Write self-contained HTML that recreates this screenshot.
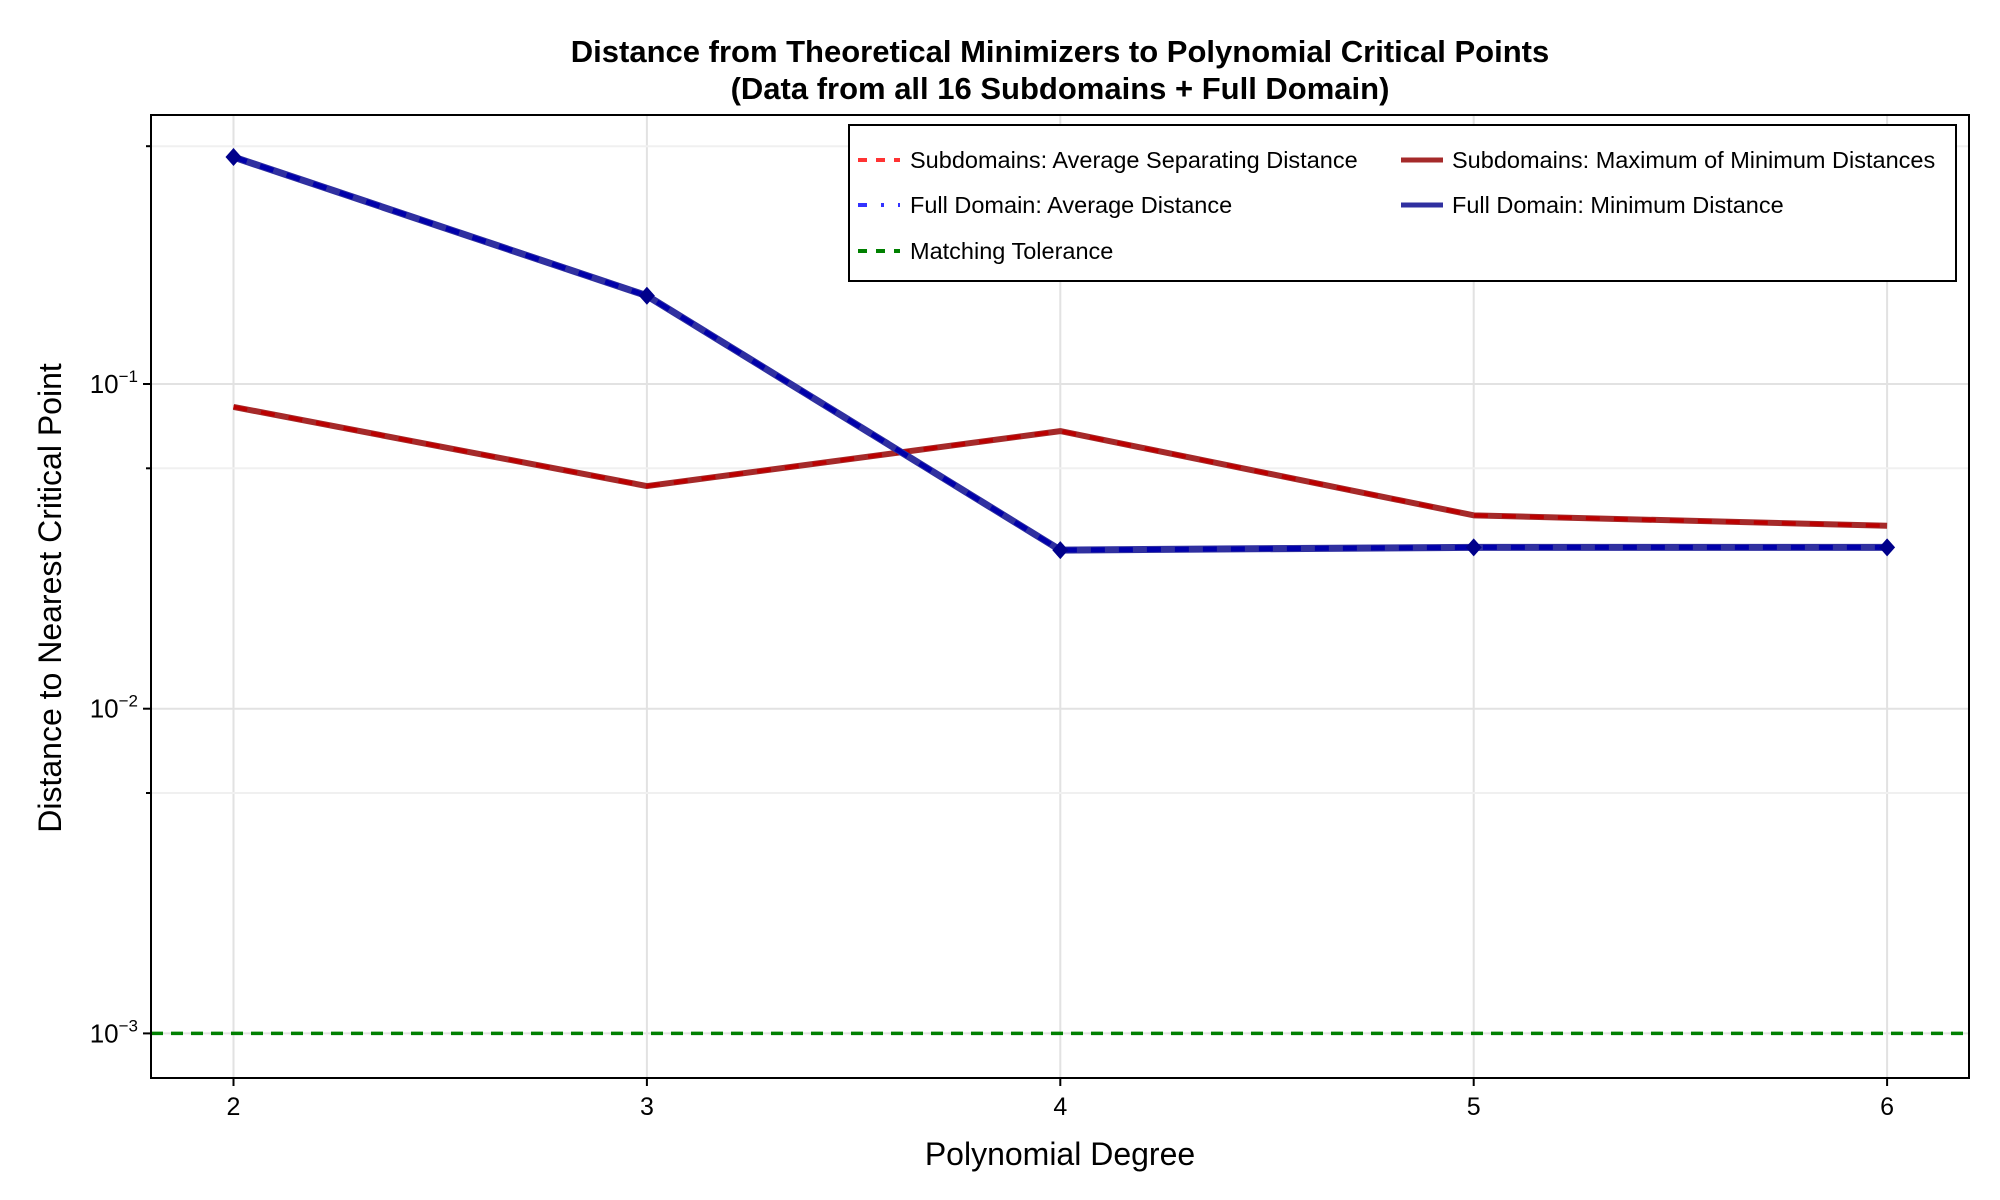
<!DOCTYPE html>
<html><head><meta charset="utf-8"><style>
html,body{margin:0;padding:0;background:#fff;}
svg{display:block;font-family:"Liberation Sans",sans-serif;}
</style></head><body>
<svg id="chart" width="2000" height="1200" viewBox="0 0 2000 1200" xmlns="http://www.w3.org/2000/svg">
<text x="1060" y="62" text-anchor="middle" font-size="31" font-weight="bold">Distance from Theoretical Minimizers to Polynomial Critical Points</text>
<text x="1060" y="99" text-anchor="middle" font-size="31" font-weight="bold">(Data from all 16 Subdomains + Full Domain)</text>
<g id="grid"></g>
<g id="series"></g>
<rect x="151" y="115" width="1818" height="963" fill="none" stroke="#000" stroke-width="2"/>
<g id="axes"></g>
<text x="1060" y="1165" text-anchor="middle" font-size="32">Polynomial Degree</text>
<text transform="translate(61,598) rotate(-90)" text-anchor="middle" font-size="32">Distance to Nearest Critical Point</text>
<g>
<rect x="849" y="125" width="1107" height="156" fill="#fff" stroke="#000" stroke-width="2"/>
<line x1="858" y1="160" x2="900" y2="160" stroke="#ff3333" stroke-width="4" stroke-dasharray="9,9"/>
<text x="910" y="168" font-size="23.5">Subdomains: Average Separating Distance</text>
<line x1="1401" y1="160" x2="1443" y2="160" stroke="#a52a2a" stroke-width="5"/>
<text x="1452" y="168" font-size="23.5">Subdomains: Maximum of Minimum Distances</text>
<line x1="858" y1="205" x2="900" y2="205" stroke="#3333ff" stroke-width="4" stroke-dasharray="9,14,3,14"/>
<text x="910" y="213" font-size="23.5">Full Domain: Average Distance</text>
<line x1="1401" y1="205" x2="1443" y2="205" stroke="#3030a0" stroke-width="5"/>
<text x="1452" y="213" font-size="23.5">Full Domain: Minimum Distance</text>
<line x1="858" y1="251" x2="900" y2="251" stroke="#008000" stroke-width="4" stroke-dasharray="9,9"/>
<text x="910" y="259" font-size="23.5">Matching Tolerance</text>
</g>
</svg>
<script>
const degrees = [2, 3, 4, 5, 6];
const subAvg = [0.085, 0.0485, 0.0716, 0.0394, 0.0366];
const subMax = [0.085, 0.0485, 0.0716, 0.0394, 0.0366];
const fullAvg = [0.50, 0.187, 0.0308, 0.0314, 0.0314];
const fullMin = [0.50, 0.187, 0.0308, 0.0314, 0.0314];
const tolerance = 0.001;
const yMajor = [0.1, 0.01, 0.001];
const yMajorLabels = ["−1", "−2", "−3"];
const yMinor = [0.54, 0.055, 0.0055];

const NS = "http://www.w3.org/2000/svg";
const L = 151, R = 1969, T = 115, B = 1078;
function xs(d){ return 233.5 + (d - 2) * 413.4; }
function ys(v){ return 384 - (Math.log10(v) + 1) * 324.7; }
function mk(tag, attrs, parent){
  const e = document.createElementNS(NS, tag);
  for (const k in attrs) e.setAttribute(k, attrs[k]);
  parent.appendChild(e); return e;
}
const grid = document.getElementById('grid');
const axes = document.getElementById('axes');
const series = document.getElementById('series');

degrees.forEach(d => {
  const g = mk('line', {x1: xs(d), x2: xs(d), y1: T, y2: B, stroke: '#e2e2e2', 'stroke-width': 2}, grid);
  
  
  const t = mk('line', {x1: xs(d), x2: xs(d), y1: B, y2: B + 8, stroke: '#000', 'stroke-width': 2}, axes);
  
  
  const l = mk('text', {x: xs(d), y: B + 37, 'text-anchor': 'middle', 'font-size': 25}, axes);
  l.textContent = d;
  
  
});
yMajor.forEach((v, i) => {
  const g = mk('line', {x1: L, x2: R, y1: ys(v), y2: ys(v), stroke: '#e2e2e2', 'stroke-width': 2}, grid);
  
  
  const t = mk('line', {x1: L - 8, x2: L, y1: ys(v), y2: ys(v), stroke: '#000', 'stroke-width': 2}, axes);
  
  
  const l = mk('text', {x: 138, y: ys(v) + 9, 'text-anchor': 'end', 'font-size': 26}, axes);
  
  
  l.innerHTML = '10<tspan dy="-11" font-size="17">' + yMajorLabels[i] + '</tspan>';
});
yMinor.forEach(v => {
  const g = mk('line', {x1: L, x2: R, y1: ys(v), y2: ys(v), stroke: '#f0f0f0', 'stroke-width': 2}, grid);
  
  
  const t = mk('line', {x1: L - 5, x2: L, y1: ys(v), y2: ys(v), stroke: '#000', 'stroke-width': 2}, axes);
  
  
});

const tol = mk('line', {x1: L, x2: R, y1: ys(tolerance), y2: ys(tolerance), stroke: '#008000', 'stroke-width': 3.5, 'stroke-dasharray': '12,8'}, series);



function pts(arr){ return arr.map((v, i) => xs(degrees[i]) + ',' + ys(v)).join(' '); }
const s1 = mk('polyline', {points: pts(subMax), fill: 'none', stroke: '#a52a2a', 'stroke-width': 6, 'stroke-linejoin': 'round'}, series);


const s2 = mk('polyline', {points: pts(subAvg), fill: 'none', stroke: '#bb0000', 'stroke-width': 4, 'stroke-dasharray': '14,14'}, series);


const s3 = mk('polyline', {points: pts(fullMin), fill: 'none', stroke: '#3030a0', 'stroke-width': 7, 'stroke-linejoin': 'round'}, series);


const s4 = mk('polyline', {points: pts(fullAvg), fill: 'none', stroke: '#0000aa', 'stroke-width': 5, 'stroke-dasharray': '14,14'}, series);


fullMin.forEach((v, i) => {
  const x = xs(degrees[i]), y = ys(v);
  const m = mk('polygon', {points: `${x},${y-9} ${x+8},${y} ${x},${y+9} ${x-8},${y}`, fill: '#00008b'}, series);
  
  
});
</script>
</body></html>
